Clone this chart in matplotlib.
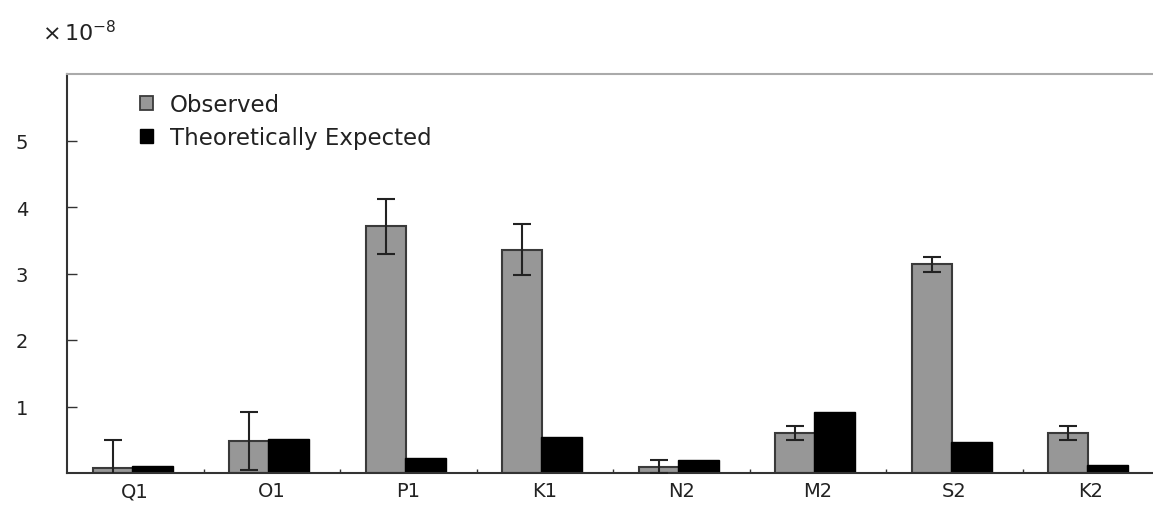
import matplotlib
matplotlib.use("Agg")
import matplotlib.pyplot as plt
import numpy as np
from matplotlib.patches import Patch

categories = ["Q1", "O1", "P1", "K1", "N2", "M2", "S2", "K2"]
observed = [0.08, 0.48, 3.71, 3.36, 0.095, 0.60, 3.14, 0.60]
observed_err = [0.41, 0.43, 0.41, 0.38, 0.095, 0.11, 0.11, 0.10]
expected = [0.10, 0.51, 0.22, 0.54, 0.20, 0.91, 0.46, 0.125]
yticks = [1, 2, 3, 4, 5]

plt.rcParams['font.family'] = ['DejaVu Sans']

W, H = 1153, 510
fig = plt.figure(figsize=(W / 100, H / 100), dpi=100)
left, right, bottom, top = 67, 1159, 474, 75
ax = fig.add_axes([left / W, 1 - bottom / H, (right - left) / W, (bottom - top) / H])

x = np.arange(len(categories))
gray = "#979797"
edge = "#3a3a3a"
ax.bar(x - 0.31, observed, width=0.29, align="edge", color=gray,
       edgecolor=edge, linewidth=1.5, zorder=2)
ax.bar(x - 0.025, expected, width=0.30, align="edge", color="black",
       edgecolor="black", linewidth=1.0, zorder=2)
ax.errorbar(x - 0.165, observed, yerr=observed_err, fmt="none", ecolor="#222222",
            elinewidth=1.5, capsize=6.5, capthick=1.5, zorder=3)

ax.set_xlim(-0.5, len(categories) - 0.5)
ax.set_ylim(0, 6)
ax.set_yticks(yticks)
ax.set_yticklabels([str(v) for v in yticks], fontsize=14, color="#222222")
ax.set_xticks(x)
ax.set_xticklabels(categories, fontsize=14, color="#222222")
ax.set_xticks(np.arange(0.5, len(categories) - 0.5, 1.0), minor=True)

ax.tick_params(axis="y", direction="in", length=7.5, width=1.0, color="#333333", pad=28)
ax.tick_params(axis="x", which="major", length=0, pad=6)
ax.tick_params(axis="x", which="minor", direction="in", length=3, width=1.0, color="#333333")

for s in ["left", "bottom"]:
    ax.spines[s].set_color("#333333")
    ax.spines[s].set_linewidth(1.5)
ax.spines["top"].set_color("#aaaaaa")
ax.spines["top"].set_linewidth(1.5)
ax.spines["right"].set_visible(False)

handles = [Patch(facecolor=gray, edgecolor=edge, linewidth=1.3, label="Observed"),
           Patch(facecolor="black", edgecolor="black", label="Theoretically Expected")]
ax.legend(handles=handles, loc="upper left", bbox_to_anchor=(0.067, 0.952),
          frameon=False, fontsize=16.5, handlelength=0.55, handleheight=0.55,
          handletextpad=0.75, labelspacing=0.45, borderpad=0, borderaxespad=0,
          labelcolor="#222222")

fig.text(42 / W, 1 - 41 / H, r"$\times\,10^{-8}$", fontsize=16, color="#222222",
         ha="left", va="baseline")

fig.savefig("out.png", dpi=100)
